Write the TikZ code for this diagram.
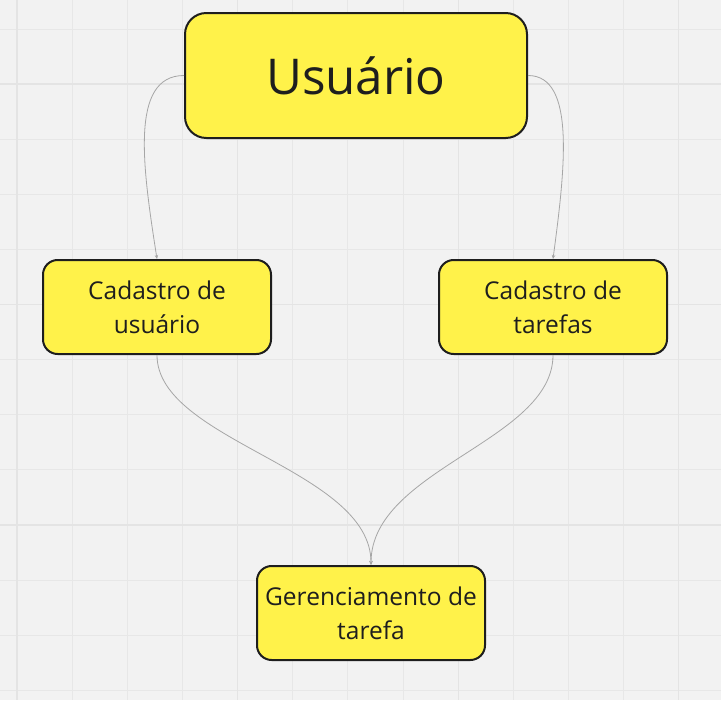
\documentclass[tikz,border=0pt]{standalone}
\usepackage{fontspec}
\setmainfont{Open Sans}
\usetikzlibrary{shapes,arrows.meta,positioning,calc}
\def \px {0.75pt}
\definecolor{paper}{HTML}{F2F2F2}
\definecolor{gridl}{HTML}{E7E7E7}
\definecolor{gridm}{HTML}{E4E4E4}
\definecolor{postit}{HTML}{FFF24A}
\definecolor{ink}{HTML}{1E1E1E}
\definecolor{wire}{HTML}{A6A6A6}

\begin{document}
\begin{tikzpicture}[x=\px,y=-\px,
    box/.style={draw=ink,line width=1.5pt,fill=postit,rounded corners=11pt,
      minimum width=171pt,minimum height=70.5pt,align=center,text=ink,
      font=\fontsize{18.4}{25.2}\selectfont,inner sep=0pt},
    bigbox/.style={box,rounded corners=16pt,minimum width=256.5pt,
      minimum height=93.75pt,font=\fontsize{37}{40}\selectfont},
    link/.style={draw=wire,line width=0.6pt,-{Stealth[length=3pt,width=2.6pt]}}]
    % paper and grid
    \fill[paper] (0,0) rectangle (721,700);
    \useasboundingbox (0,0) rectangle (721,700);
    \foreach \k in {0,...,12} {
      \draw[gridl,line width=0.75pt] ({17+55.15*\k},0) -- ({17+55.15*\k},700);
      \draw[gridl,line width=0.75pt] (0,{29+55.1*\k}) -- (721,{29+55.1*\k});
    }
    \foreach \k in {0,4,8,12}
      \draw[gridm,line width=1pt] ({17+55.15*\k},0) -- ({17+55.15*\k},700);
    \foreach \k in {1,5,9}
      \draw[gridm,line width=1pt] (0,{29+55.1*\k}) -- (721,{29+55.1*\k});
    % notes
    \node[bigbox] (user) at (356,75.5) {Usuário};
    \node[box] (cadU) at (157,307) {Cadastro de\\usuário};
    \node[box] (cadT) at (553,307) {Cadastro de\\tarefas};
    \node[box] (ger) at (371,613) {Gerenciamento de\\tarefa};
    % links
    \path[link] (user.west) .. controls +(-55,0) and +(-14,-90) .. (cadU.north);
    \path[link] (user.east) .. controls +(48,0) and +(12,-90) .. (cadT.north);
    \path[link] (cadU.south) .. controls +(0,86) and +(0,-96) .. (ger.north);
    \path[link] (cadT.south) .. controls +(0,86) and +(0,-96) .. (ger.north);
\end{tikzpicture}
\end{document}
